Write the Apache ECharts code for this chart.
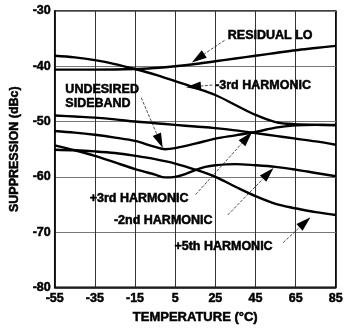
<!DOCTYPE html>
<html>
<head>
<meta charset="utf-8">
<script src="https://cdn.jsdelivr.net/npm/echarts@6/dist/echarts.min.js"></script>
<style>
  html, body { margin: 0; padding: 0; background: #fff; }
  #chart { width: 346px; height: 329px; }
</style>
</head>
<body>
<div id="chart"></div>
<script>
// Temperature range of the x axis (°C); values are plotted relative to T_MIN
// so that the 20 °C ticks start exactly at the left edge.
const T_MIN = -55;
const T_MAX = 85;
const T_STEP = 20;

// Suppression (dBc) versus temperature (°C), one array per product
const residualLo = [[-55,-40.6],[-35,-40.6],[-15,-40.5],[-5,-40.3],[5,-40.0],[15,-39.6],[25,-39.1],[35,-38.6],[45,-38.1],[55,-37.6],[65,-37.1],[75,-36.7],[85,-36.3]];
const harm3Neg   = [[-55,-38.1],[-45,-38.4],[-35,-38.9],[-25,-39.6],[-15,-40.5],[-5,-41.5],[5,-42.7],[15,-43.9],[25,-45.2],[35,-47.0],[45,-48.8],[55,-50.1],[65,-50.5],[75,-50.6],[85,-50.7]];
const sideband   = [[-55,-51.7],[-45,-52.0],[-35,-52.4],[-25,-52.9],[-15,-53.5],[-5,-54.6],[0,-55.0],[5,-54.8],[15,-54.0],[25,-53.1],[35,-52.5],[45,-51.9],[55,-51.1],[65,-50.7],[75,-50.6],[85,-50.6]];
const harm3Pos   = [[-55,-48.9],[-45,-49.1],[-35,-49.3],[-25,-49.6],[-15,-50.0],[-5,-50.3],[5,-50.6],[15,-50.9],[25,-51.2],[35,-51.6],[45,-52.1],[55,-52.6],[65,-53.1],[75,-53.6],[85,-54.2]];
const harm2Neg   = [[-55,-54.3],[-45,-55.2],[-35,-56.2],[-25,-57.4],[-15,-58.6],[-5,-59.6],[0,-60.1],[5,-60.0],[10,-59.5],[15,-58.8],[20,-58.2],[25,-57.9],[35,-57.7],[45,-57.9],[55,-58.2],[65,-58.7],[75,-59.3],[85,-59.9]];
const harm5Pos   = [[-55,-55.1],[-45,-55.2],[-35,-55.4],[-25,-55.7],[-15,-56.2],[-5,-56.8],[5,-57.6],[15,-58.7],[25,-60.0],[35,-61.8],[45,-63.5],[55,-64.9],[65,-65.7],[75,-66.4],[85,-66.9]];

// Callouts, in data units: where the text starts, where the leader starts, where the arrow points
const callouts = [
  { text: 'RESIDUAL LO',           at: [31.2, -34.4], from: [29.6, -35.3], tip: [13.3, -39.3] },
  { text: '-3rd HARMONIC',         at: [24.9, -43.4], from: [23.5, -43.4], tip: [10.4, -43.8] },
  { text: 'UNDESIRED\nSIDEBAND',   at: [-49.7, -45.4], from: [-11.9, -45.7], tip: [-1.2, -54.8] },
  { text: '+3rd HARMONIC',         at: [-37.6, -63.9], from: [15.2, -63.2], tip: [43.3, -51.9] },
  { text: '-2nd HARMONIC',         at: [-25.5, -68.0], from: [31.2, -66.9], tip: [54.0, -58.4] },
  { text: '+5th HARMONIC',         at: [4.6, -72.6],  from: [58.8, -71.9], tip: [72.4, -67.3] }
];

const FONT = '"Liberation Sans", Arial, Helvetica, sans-serif';
// heavy lettering: bold face plus a thin outline of the same colour
const heavy = { fontFamily: FONT, fontWeight: 'bold', color: '#000', textBorderColor: '#000', textBorderWidth: 0.5 };
const shift = pts => pts.map(([t, v]) => [t - T_MIN, v]);
const curves = [residualLo, harm3Neg, sideband, harm3Pos, harm2Neg, harm5Pos];

const chart = echarts.init(document.getElementById('chart'), null, { renderer: 'canvas' });

chart.setOption({
  animation: false,
  backgroundColor: '#fff',
  grid: {
    left: 52, right: 5, top: 11, bottom: 35,
    show: true, borderColor: '#000', borderWidth: 1.5, backgroundColor: 'transparent'
  },
  xAxis: {
    type: 'value',
    min: 0, max: T_MAX - T_MIN, interval: T_STEP,
    name: 'TEMPERATURE (°C)',
    nameLocation: 'middle', nameGap: 22,
    nameTextStyle: Object.assign({ fontSize: 13 }, heavy),
    axisLine: { show: true, lineStyle: { color: '#000', width: 1.5 } },
    axisTick: { show: false },
    axisLabel: Object.assign({
      margin: 5, fontSize: 12.5,
      formatter: v => String(v + T_MIN)
    }, heavy),
    splitLine: { show: true, lineStyle: { color: '#333', width: 1 } }
  },
  yAxis: {
    type: 'value',
    min: -80, max: -30, interval: 10,
    name: 'SUPPRESSION (dBc)',
    nameLocation: 'middle', nameGap: 30, nameRotate: 90,
    nameTextStyle: Object.assign({ fontSize: 12.5 }, heavy),
    axisLine: { show: true, lineStyle: { color: '#000', width: 1.5 } },
    axisTick: { show: false },
    axisLabel: Object.assign({ margin: 4, fontSize: 12.5 }, heavy),
    splitLine: { show: true, lineStyle: { color: '#777', width: 1 } }
  },
  series: curves.map(pts => ({
    type: 'line',
    data: shift(pts),
    smooth: 0.35,
    symbol: 'none',
    silent: true,
    lineStyle: { color: '#000', width: 2.4 }
  }))
});

// Callout text, dashed leader and solid arrowhead, placed through the axes
const px = ([t, v]) => chart.convertToPixel({ xAxisIndex: 0, yAxisIndex: 0 }, [t - T_MIN, v]);
const HEAD_LEN = 15, HEAD_HALF = 4.5;
const graphics = [];
callouts.forEach(c => {
  const a = px(c.at), f = px(c.from), p = px(c.tip);
  const dx = p[0] - f[0], dy = p[1] - f[1];
  const len = Math.hypot(dx, dy);
  const ux = dx / len, uy = dy / len;
  const bx = p[0] - ux * HEAD_LEN, by = p[1] - uy * HEAD_LEN;
  graphics.push({
    type: 'text', x: a[0], y: a[1], silent: true,
    style: {
      text: c.text, fill: '#000', align: 'left', verticalAlign: 'middle',
      font: 'bold 12.5px ' + FONT, lineHeight: 14,
      stroke: '#000', lineWidth: 0.5
    }
  });
  graphics.push({
    type: 'line', silent: true,
    shape: { x1: f[0], y1: f[1], x2: bx, y2: by },
    style: { stroke: '#222', lineWidth: 0.8, lineDash: [3, 1.5] }
  });
  graphics.push({
    type: 'polygon', silent: true,
    shape: { points: [[p[0], p[1]], [bx - uy * HEAD_HALF, by + ux * HEAD_HALF], [bx + uy * HEAD_HALF, by - ux * HEAD_HALF]] },
    style: { fill: '#000' }
  });
});
chart.setOption({ graphic: graphics });
</script>
</body>
</html>
